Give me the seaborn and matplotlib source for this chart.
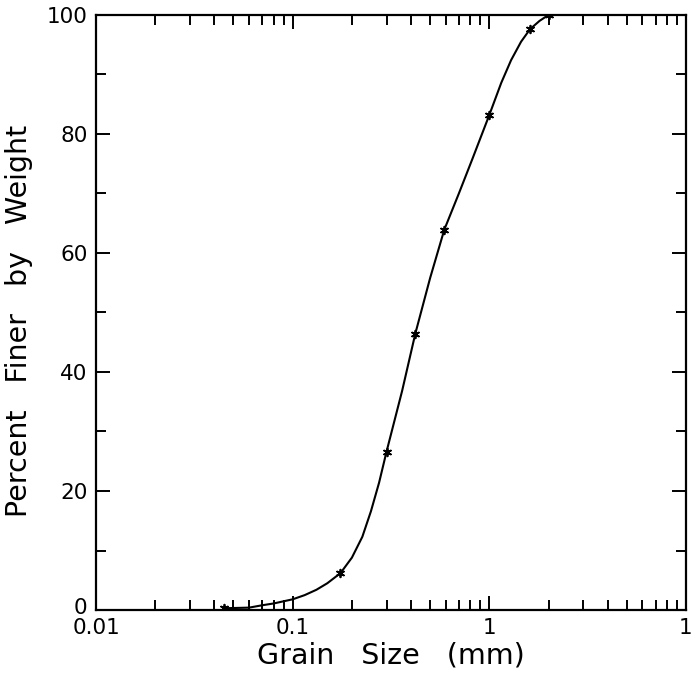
import numpy as np
import pandas as pd
import matplotlib
matplotlib.use("Agg")
import matplotlib.pyplot as plt
import matplotlib.transforms as mtransforms
import seaborn as sns
from matplotlib.ticker import FixedLocator, LogLocator, NullFormatter

# sieve points (marked with stars)
grain_mm = [0.045, 0.175, 0.30, 0.42, 0.59, 1.0, 1.61, 2.0]
finer_pct = [0.3, 6.2, 26.6, 46.4, 63.9, 83.2, 97.6, 100.0]

# curve
curve_mm = [0.045, 0.06, 0.07, 0.08, 0.10, 0.115, 0.132, 0.15, 0.175, 0.20,
            0.226, 0.25, 0.275, 0.30, 0.36, 0.42, 0.50, 0.59, 0.70, 0.82,
            1.0, 1.15, 1.29, 1.45, 1.61, 1.80, 2.0]
curve_pct = [0.3, 0.4, 0.8, 1.1, 1.8, 2.5, 3.4, 4.5, 6.2, 8.8,
             12.3, 16.6, 21.4, 26.6, 36.8, 46.4, 55.8, 63.9, 70.0, 75.8,
             83.2, 88.6, 92.4, 95.5, 97.6, 99.0, 100.0]

xtick_vals = [0.01, 0.1, 1, 10]
xtick_text = ["0.01", "0.1", "1", "1"]
ytick_vals = [0, 20, 40, 60, 80, 100]

sns.set_style("ticks", {"text.color": "black", "xtick.color": "black",
                        "ytick.color": "black", "axes.labelcolor": "black",
                        "axes.edgecolor": "black"})
plt.rcParams['font.family'] = ['DejaVu Sans']

fig = plt.figure(figsize=(6.96, 6.79), dpi=100)
ax = fig.add_axes([0.138, 0.1016, 0.8476, 0.8764])

curve = pd.DataFrame({"size": curve_mm, "pct": curve_pct})
pts = pd.DataFrame({"size": grain_mm, "pct": finer_pct})

sns.lineplot(data=curve, x="size", y="pct", sort=False, estimator=None,
             color="black", linewidth=1.5, ax=ax)
sns.scatterplot(data=pts, x="size", y="pct", marker=(6, 2, 0), s=30,
                color="black", linewidth=1.3, ax=ax, zorder=3)

ax.set_xscale("log")
ax.set_xlim(0.01, 10)
ax.set_ylim(0, 100)

ax.xaxis.set_major_locator(FixedLocator(xtick_vals))
ax.set_xticklabels(xtick_text)
ax.xaxis.set_minor_locator(LogLocator(base=10, subs=np.arange(2, 10)))
ax.xaxis.set_minor_formatter(NullFormatter())
ax.set_yticks(ytick_vals)
ax.set_yticks([10, 30, 50, 70, 90], minor=True)

ax.tick_params(which="both", direction="in", top=True, right=True,
               width=1.4, labelsize=15.5, pad=6, colors="black")
ax.tick_params(which="major", length=10)
ax.tick_params(which="minor", length=7)

# nudge the "0" label up a little so it sits just above "0.01"
zero_lbl = ax.get_yticklabels()[0]
zero_lbl.set_transform(zero_lbl.get_transform() +
                       mtransforms.ScaledTranslation(0, 3 / 72, fig.dpi_scale_trans))

for s in ax.spines.values():
    s.set_linewidth(1.6)
    s.set_color("black")

ax.set_xlabel("Grain   Size   (mm)", fontsize=20.5, labelpad=2)
ax.set_ylabel("Percent   Finer   by   Weight", fontsize=20.5)
ax.yaxis.set_label_coords(-0.107, 0.486)

fig.savefig("out.png", dpi=100)
